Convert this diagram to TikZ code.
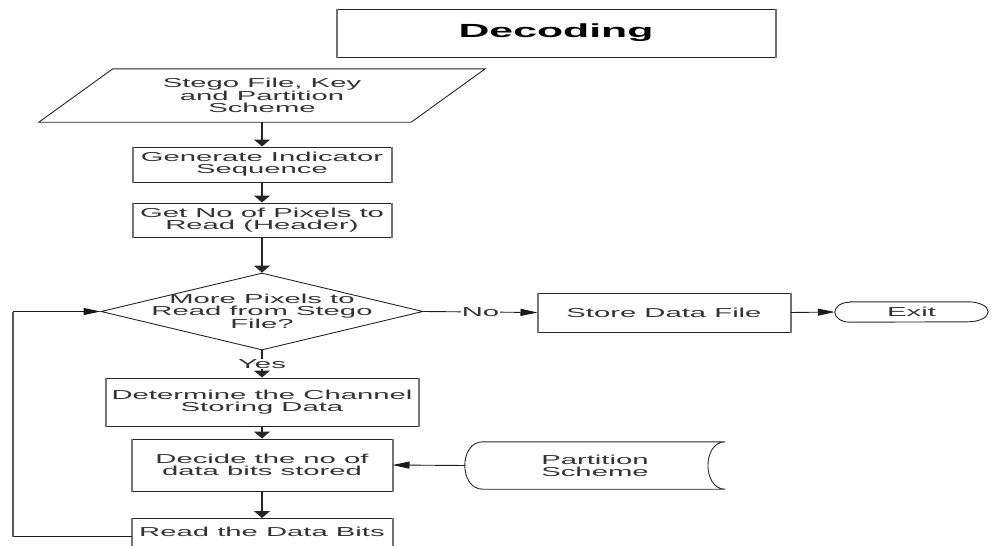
\documentclass[tikz,border=0pt]{standalone}
\usepackage{fontspec}
\setmainfont[FakeStretch=2.25]{Liberation Sans}
\usetikzlibrary{arrows.meta,shapes.geometric}
\begin{document}
\begin{tikzpicture}[x=1pt,y=-1pt,
  every node/.style={text=black!80, font=\fontsize{13}{12}\selectfont, align=center},
  stepbox/.style={draw=black!85, line width=1pt, rectangle, inner sep=0pt},
  vside/.style={draw=black!55, line width=2pt},
  outline/.style={draw=black!85, line width=0.9pt},
  vflow/.style={draw=black!85, line width=2.2pt, -{Triangle[length=7pt,width=16pt]}},
  hflow/.style={draw=black!90, line width=0.9pt, -{Triangle[length=17pt,width=7pt]}},
  hline/.style={draw=black!90, line width=0.9pt},
  vline/.style={draw=black!65, line width=2.4pt},
  tag/.style={fill=white, inner xsep=1pt, inner ysep=0pt}
]
\useasboundingbox (0,0) rectangle (991,546);
\clip (0,0) rectangle (991,546);

% heading
\node[stepbox, minimum width=438pt, minimum height=48pt, text=black,
      font=\bfseries\fontsize{19}{22}\selectfont] (title) at (556,33) {Decoding};

% input parallelogram
\node[minimum width=372pt, minimum height=53pt, inner sep=0pt] (inp) at (262,95.5)
  {Stego File, Key\\and Partition\\Scheme};
\draw[outline] ([xshift=37pt]inp.north west) -- ([xshift=37pt]inp.north east)
  -- ([xshift=-37pt]inp.south east) -- ([xshift=-37pt]inp.south west) -- cycle;

% main column
\node[stepbox, minimum width=258pt, minimum height=35pt] (gen) at (262,164.5)
  {Generate Indicator\\Sequence};
\node[stepbox, minimum width=258pt, minimum height=34pt] (get) at (262,220)
  {Get No of Pixels to\\Read (Header)};
\node[diamond, outline, minimum width=322pt, minimum height=77pt, inner sep=0pt]
  (q) at (262,311.5) {};
\node (qtxt) at (q.center) {More Pixels to\\Read from Stego\\File?};
\node[stepbox, minimum width=312pt, minimum height=48pt] (det) at (262,402)
  {Determine the Channel\\Storing Data};
\node[stepbox, minimum width=260pt, minimum height=52pt] (dec) at (262,465)
  {Decide the no of\\data bits stored};
\node[stepbox, minimum width=260pt, anchor=north, text height=13.5pt,
      text depth=13.5pt, inner ysep=4.5pt] (rd) at (262,518) {Read the Data Bits};

% right branch
\node[stepbox, minimum width=252pt, minimum height=39pt] (store) at (664,312.5)
  {Store Data File};
\node[minimum width=153pt, minimum height=20pt, inner sep=0pt] (exit) at (911.5,312) {Exit};
\draw[outline] ([xshift=15pt]exit.north west) -- ([xshift=-20pt]exit.north east)
  arc[start angle=90, end angle=-90, x radius=20pt, y radius=10pt]
  -- ([xshift=15pt]exit.south west)
  arc[start angle=270, end angle=90, x radius=15pt, y radius=10pt] -- cycle;

% stored data
\node[minimum width=260pt, minimum height=47pt, inner sep=0pt] (part) at (595,465.5)
  {Partition\\Scheme};
\draw[outline] ([xshift=18pt]part.north west)
  .. controls ([xshift=-6pt]part.north west) and ([xshift=-6pt]part.south west)
  .. ([xshift=18pt]part.south west) -- (part.south east)
  .. controls ([xshift=-23pt]part.south east) and ([xshift=-23pt]part.north east)
  .. (part.north east) -- cycle;

% heavier vertical sides of the boxes
\foreach \n in {title,gen,get,det,dec,rd,store}
  \draw[vside] (\n.north west) -- (\n.south west) (\n.north east) -- (\n.south east);

% flow
\draw[vflow] (inp.south) -- (gen.north);
\draw[vflow] (gen.south) -- (get.north);
\draw[vflow] (get.south) -- (q.north);
\draw[vflow] (q.south) -- node[tag] (yes) {Yes} (det.north);
\draw[vflow] (det.south) -- (dec.north);
\draw[vflow] (dec.south) -- (rd.north);
\draw[hflow] (q.east) -- node[tag] (no) {No} (store.west);
\draw[hflow] (store.east) -- (exit.west);
\draw[hflow] (part.west) -- (dec.east);

% loop back
\coordinate (back) at (13,0);
\draw[hline] (rd.west) -- (rd.west -| back);
\draw[vline] (rd.west -| back) -- (q.west -| back);
\draw[hflow] (q.west -| back) -- (q.west);
\end{tikzpicture}
\end{document}
